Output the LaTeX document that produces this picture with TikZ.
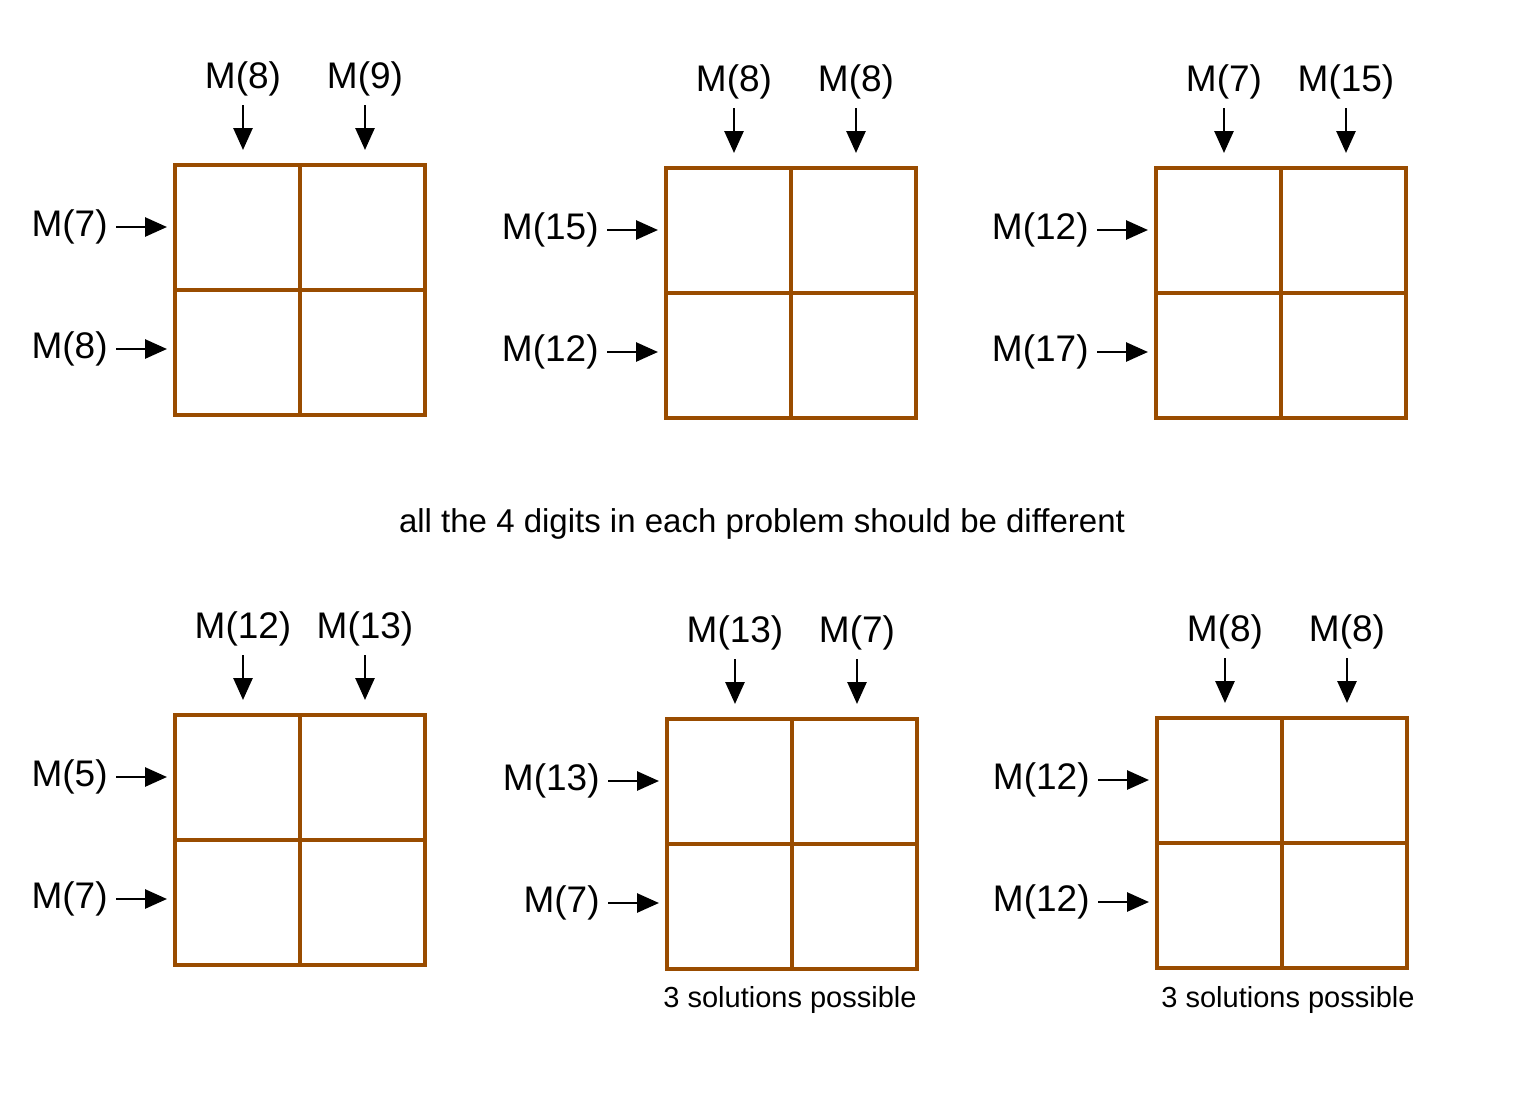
\documentclass[tikz,border=0pt]{standalone}
\usepackage{fontspec}
\setmainfont{Liberation Sans}
\usetikzlibrary{arrows.meta}
\definecolor{gridbrown}{RGB}{153,76,0}

\begin{document}
\begin{tikzpicture}[x=0.5pt, y=-0.5pt, line join=miter,
    >={Triangle[length=11pt, width=9.5pt]},
    cell/.style={draw=gridbrown, line width=1.7pt},
    mlabel/.style={font=\fontsize{18.5}{22}\selectfont, inner sep=4pt},
    feed/.style={->, line width=1.35pt},
    note/.style={font=\fontsize{14.5}{17}\selectfont, inner sep=0pt}]

  \useasboundingbox (0,0) rectangle (1528,1098);

  % one puzzle per entry: name / top-left corner of grid / column inputs / row inputs
  \foreach \p/\gx/\gy/\ca/\cb/\ra/\rb in {
      a/175/165/8/9/7/8,      b/666/168/8/8/15/12,   c/1156/168/7/15/12/17,
      d/175/715/12/13/5/7,    e/667/719/13/7/13/7,   f/1157/718/8/8/12/12} {

    % 2x2 grid
    \draw[cell] (\gx,\gy) rectangle ++(250,250);
    \draw[cell] (\gx+125,\gy) -- ++(0,250);
    \draw[cell] (\gx,\gy+125) -- ++(250,0);

    % column inputs
    \coordinate (\p-c1) at (\gx+68,  \gy-15);
    \coordinate (\p-c2) at (\gx+190, \gy-15);
    \node[mlabel, anchor=south] (\p-t1) at (\gx+68,  \gy-60) {M(\ca)};
    \node[mlabel, anchor=south] (\p-t2) at (\gx+190, \gy-60) {M(\cb)};
    \draw[feed] (\p-t1.south) -- (\p-c1);
    \draw[feed] (\p-t2.south) -- (\p-c2);

    % row inputs
    \coordinate (\p-r1) at (\gx-8, \gy+62);
    \coordinate (\p-r2) at (\gx-8, \gy+184);
    \node[mlabel, anchor=east] (\p-l1) at (\gx-59, \gy+62)  {M(\ra)};
    \node[mlabel, anchor=east] (\p-l2) at (\gx-59, \gy+184) {M(\rb)};
    \draw[feed] (\p-l1.east) -- (\p-r1);
    \draw[feed] (\p-l2.east) -- (\p-r2);
  }

  % remarks
  \node[note, font=\fontsize{16.5}{20}\selectfont] (rule) at (762,524)
      {all the 4 digits in each problem should be different};
  \node[note] (e-note) at (790,1000) {3 solutions possible};
  \node[note] (f-note) at (1288,1000) {3 solutions possible};

\end{tikzpicture}
\end{document}
